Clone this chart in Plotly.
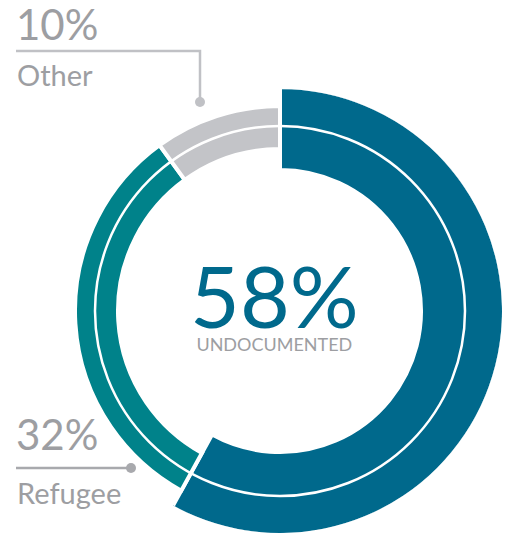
import plotly.graph_objects as go

# Data
categories = ["Undocumented", "Refugee", "Other"]
shares = [58, 32, 10]
pct_labels = ["58%", "32%", "10%"]
colors = ["#00698c", "#00828a", "#c3c4c8"]

# ring geometry (pixels; 1 radial unit = 1 px)
W, H = 506, 533
CX, CY = 280, 311
RMAX = 222
ring_inner = [143, 164, 164]
ring_outer = [222, 203, 203]
GAP = 4  # white separator width

fig = go.Figure()

start = 0.0
for name, val, col, r0, r1 in zip(categories, shares, colors, ring_inner, ring_outer):
    span = val / sum(shares) * 360
    fig.add_trace(go.Barpolar(
        name=name,
        r=[r1 - r0 + GAP],
        base=[r0 - GAP / 2],
        theta=[start + span / 2],
        width=[span],
        marker=dict(color=col, line=dict(color="white", width=GAP)),
        hovertemplate=name + ": " + str(val) + "%<extra></extra>",
    ))
    start += span

fig.update_layout(
    width=W, height=H,
    margin=dict(l=0, r=0, t=0, b=0),
    paper_bgcolor="white",
    showlegend=False,
    polar=dict(
        domain=dict(x=[(CX - RMAX) / W, (CX + RMAX) / W],
                    y=[1 - (CY + RMAX) / H, 1 - (CY - RMAX) / H]),
        bgcolor="white",
        hole=0,
        radialaxis=dict(range=[0, RMAX], visible=False, showgrid=False),
        angularaxis=dict(rotation=90, direction="clockwise", visible=False, showgrid=False),
    ),
)

def px(x):
    return x / W

def py(y):
    return 1 - y / H

# thin white ring through the middle of the bands
RW = 185
fig.add_shape(type="circle", xref="paper", yref="paper",
              x0=px(CX - RW), x1=px(CX + RW), y0=py(CY + RW), y1=py(CY - RW),
              line=dict(color="white", width=2.5), layer="above")

grey_text = "#9d9ea2"
word_font = "Lato, Open Sans, sans-serif"

# leader lines and dots
fig.add_shape(type="path", xref="paper", yref="paper",
              path=f"M {px(16)},{py(51)} L {px(200)},{py(51)} L {px(200)},{py(101)}",
              line=dict(color="#c0c1c5", width=2.5))
fig.add_shape(type="circle", xref="paper", yref="paper",
              x0=px(195), x1=px(205), y0=py(107), y1=py(97),
              fillcolor="#c0c1c5", line=dict(width=0))
fig.add_shape(type="line", xref="paper", yref="paper",
              x0=px(16), x1=px(131), y0=py(468), y1=py(468),
              line=dict(color="#a8a9ad", width=2.5))
fig.add_shape(type="circle", xref="paper", yref="paper",
              x0=px(126), x1=px(136), y0=py(473), y1=py(463),
              fillcolor="#a8a9ad", line=dict(width=0))

# side labels
fig.add_annotation(x=px(14), y=py(24), xref="paper", yref="paper", text=pct_labels[2],
                   showarrow=False, xanchor="left", yanchor="middle",
                   font=dict(family=word_font, size=42, color=grey_text))
fig.add_annotation(x=px(15), y=py(74), xref="paper", yref="paper", text=categories[2],
                   showarrow=False, xanchor="left", yanchor="middle",
                   font=dict(family=word_font, size=29, color=grey_text))
fig.add_annotation(x=px(14), y=py(434), xref="paper", yref="paper", text=pct_labels[1],
                   showarrow=False, xanchor="left", yanchor="middle",
                   font=dict(family=word_font, size=42, color=grey_text))
fig.add_annotation(x=px(15), y=py(492), xref="paper", yref="paper", text=categories[1],
                   showarrow=False, xanchor="left", yanchor="middle",
                   font=dict(family=word_font, size=29, color=grey_text))

# centre label (one block so the two lines sit tight)
centre = (f"<span style='font-size:86px;color:{colors[0]}'>{pct_labels[0]}</span>"
          f"<br>{categories[0].upper()}")
fig.add_annotation(x=px(274), y=py(357), xref="paper", yref="paper", text=centre,
                   showarrow=False, xanchor="center", yanchor="bottom",
                   font=dict(family=word_font, size=18, color=grey_text))

fig.write_html("out.html", config={"displayModeBar": False},
               post_script="document.body.style.margin='0';")
